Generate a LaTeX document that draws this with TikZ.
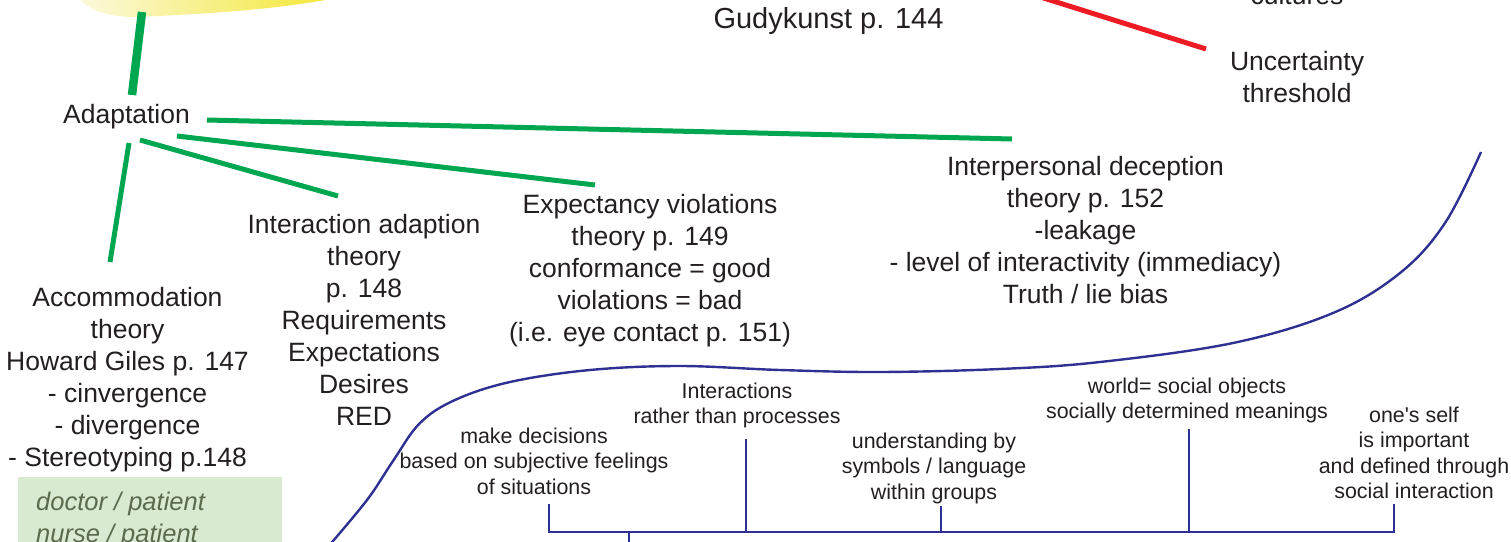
\documentclass[tikz,border=0pt]{standalone}
\usepackage{fontspec}
\setmainfont{Liberation Sans}
\definecolor{ink}{HTML}{231F20}
\definecolor{grn}{HTML}{00A650}
\definecolor{navy}{HTML}{2E3192}
\definecolor{redl}{HTML}{ED1C24}
\definecolor{ylo}{HTML}{F2E62A}
\definecolor{ylopale}{HTML}{FCF9DE}
\definecolor{boxg}{HTML}{D9EAD3}
\definecolor{boxtxt}{HTML}{5A6B4D}
\begin{document}
\begin{tikzpicture}[x=1pt,y=-1pt,
  big/.style={font=\fontsize{26.5}{32}\selectfont, align=center, inner sep=0pt, text=ink, anchor=north},
  small/.style={font=\fontsize{21.4}{25.5}\selectfont, align=center, inner sep=0pt, text=ink, anchor=north},
  gline/.style={draw=grn, line width=5pt},
  bline/.style={draw=navy, line width=2.6pt},
  rline/.style={draw=redl, line width=5pt}]
\useasboundingbox (0,0) rectangle (1511,541);
\clip (0,0) rectangle (1511,541);

% yellow blob (cut off at the top)
\shade[left color=ylopale, right color=ylo]
  (76,-6) -- (80,0) .. controls (92,12) and (112,17) .. (135,17)
  .. controls (210,14) and (300,8) .. (352,-6) -- cycle;

% text nodes
\node[big, anchor=base] (adapt) at (126.5,123) {Adaptation};
\node[big] (accom) at (127.5,283.6) {\strut Accommodation\\theory\\Howard Giles p. 147\\- cinvergence\\- divergence\\- Stereotyping p.148};
\node[big] (inter) at (364,210.6) {\strut Interaction adaption\\theory\\p. 148\\Requirements\\Expectations\\Desires\\RED};
\node[big] (expect) at (650,190.6) {\strut Expectancy violations\\theory p. 149\\conformance = good\\violations = bad\\(i.e. eye contact p. 151)};
\node[big] (decep) at (1085.5,152.6) {\strut Interpersonal deception\\theory p. 152\\-leakage\\- level of interactivity (immediacy)\\Truth / lie bias};
\node[big, font=\fontsize{29}{34}\selectfont, anchor=base] (gudy) at (828.5,28) {Gudykunst p. 144};
\node[big, anchor=base] (cult) at (1297,4) {cultures};
\node[big] (uncert) at (1297,48) {\strut Uncertainty\\threshold};

% green box
\fill[boxg] (18,477) rectangle (282,560);
\node[font=\fontsize{25.5}{32}\selectfont\itshape, text=boxtxt, align=left, inner sep=0pt, anchor=north west] (roles) at (36,487.6) {\strut doctor / patient\\nurse / patient};

% small labels
\node[small] (s1) at (534,425.2) {\strut make decisions\\based on subjective feelings\\of situations};
\node[small] (s2) at (737,380.2) {\strut Interactions\\rather than processes};
\node[small] (s3) at (934,430.2) {\strut understanding by\\symbols / language\\within groups};
\node[small] (s4) at (1187,375.2) {\strut world= social objects\\socially determined meanings};
\node[small] (s5) at (1414,404.2) {\strut one\textquotesingle s self\\is important\\and defined through\\social interaction};

% green connectors
\coordinate (blobb) at (142,12);
\coordinate (adtop) at (132,95);
\draw[gline, line width=8.5pt] (blobb) -- (adtop);
\coordinate (a1) at (207,120);  \coordinate (e1) at (1012,139);
\coordinate (a2) at (177,136);  \coordinate (e2) at (595,185);
\coordinate (a3) at (140,140);  \coordinate (e3) at (338,196);
\coordinate (a4) at (129,143);  \coordinate (e4) at (110,262);
\draw[gline] (a1) -- (e1);
\draw[gline] (a2) -- (e2);
\draw[gline] (a3) -- (e3);
\draw[gline] (a4) -- (e4);

% red connector
\coordinate (r0) at (1034,-5);
\coordinate (r1) at (1206,49);
\draw[rline] (r0) -- (r1);

% blue curve
\draw[bline, line width=2.4pt] plot[smooth, tension=0.6] coordinates {
  (327,548) (367,500) (393,461) (420,423) (455,400) (510,382)
  (590,370) (680,366) (780,370) (880,372) (1000,369) (1100,362)
  (1233,343) (1333,313) (1400,273) (1445,223) (1481,152)};

% blue tree
\coordinate (t1) at (549,504); \coordinate (b1) at (549,532);
\coordinate (t2) at (746,439); \coordinate (b2) at (746,532);
\coordinate (t3) at (941,506); \coordinate (b3) at (941,532);
\coordinate (t4) at (1189,429); \coordinate (b4) at (1189,532);
\coordinate (t5) at (1394,504); \coordinate (b5) at (1394,532);
\coordinate (d0) at (629,532); \coordinate (d1) at (629,546);
\draw[bline] (t1) -- (b1) -- (b5) -- (t5);
\draw[bline] (t2) -- (b2);
\draw[bline] (t3) -- (b3);
\draw[bline] (t4) -- (b4);
\draw[bline] (d0) -- (d1);
\end{tikzpicture}
\end{document}
